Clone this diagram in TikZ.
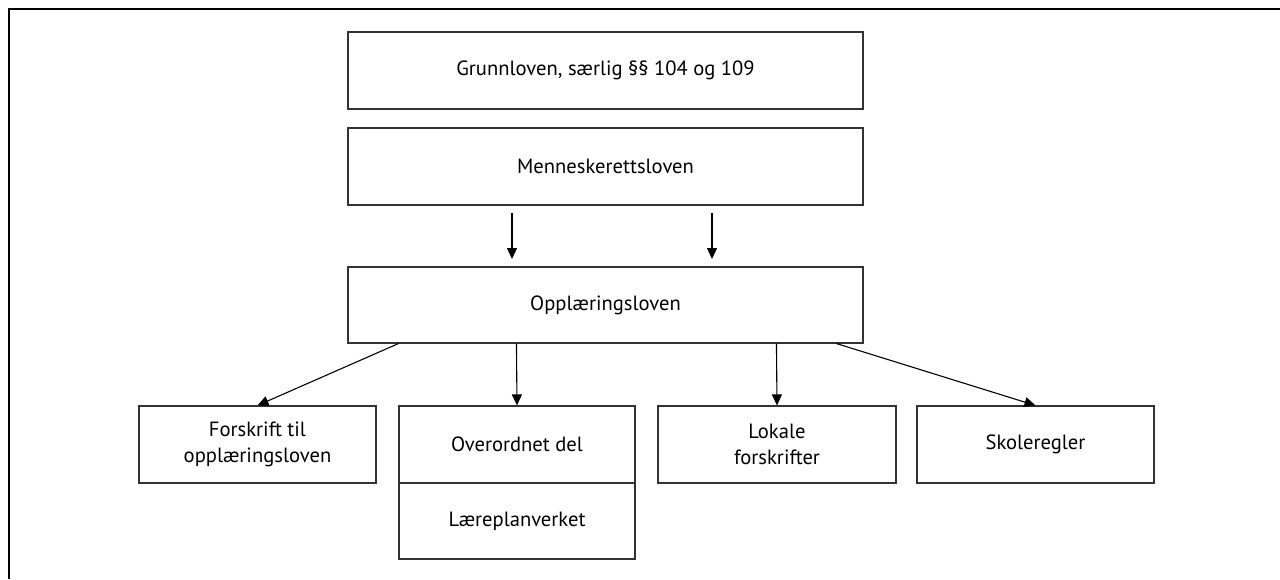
\documentclass[tikz,border=0pt]{standalone}
\usepackage{fontspec}
\setmainfont{PT Sans}
\usetikzlibrary{arrows.meta,calc}
\begin{document}
\begin{tikzpicture}[x=1pt,y=-1pt,
  box/.style={draw=black!80,line width=1.1pt,rectangle,inner sep=0pt,align=center,
    font=\fontsize{20.6}{26}\selectfont},
  arr/.style={draw=black,line width=1.1pt,-{Triangle[length=11pt,width=10pt]}},
  frame/.style={draw=black,line width=2.6pt}]
\useasboundingbox (0,0) rectangle (1280,579);
\draw[frame] (9,579) -- (9,9) -- (1280,9);
\node[box,minimum width=515pt,minimum height=77pt] (grl) at (605.5,70.5) {Grunnloven, særlig §§ 104 og 109};
\node[box,minimum width=515pt,minimum height=77pt] (mrl) at (605.5,166.5) {Menneskerettsloven};
\node[box,minimum width=515pt,minimum height=76pt] (opp) at (605.5,305) {Opplæringsloven};
\node[box,minimum width=237pt,minimum height=77pt] (fsk) at (257.5,444.5) {Forskrift til\\opplæringsloven};
\node[box,minimum width=236pt,minimum height=77pt] (ovd) at (517,444.5) {Overordnet del};
\node[box,minimum width=236pt,minimum height=76pt] (lpv) at (517,521) {Læreplanverket};
\node[box,minimum width=238pt,minimum height=77pt] (lok) at (777,444.5) {Lokale\\forskrifter};
\node[box,minimum width=237pt,minimum height=77pt] (skr) at (1035.5,444.5) {Skoleregler};
\coordinate (m1s) at (512,213);
\coordinate (m1e) at (512,259);
\coordinate (m2s) at (712,213);
\coordinate (m2e) at (712,259);
\draw[arr] (m1s) -- (m1e);
\draw[arr] (m2s) -- (m2e);
\draw[arr] ($(opp.south west)+(51,0)$) -- (fsk.north);
\draw[arr] ($(opp.south west)+(169,0)$) -- (ovd.north);
\draw[arr] ($(opp.south west)+(429,0)$) -- (lok.north);
\draw[arr] ($(opp.south west)+(489,0)$) -- (skr.north);
\end{tikzpicture}
\end{document}
